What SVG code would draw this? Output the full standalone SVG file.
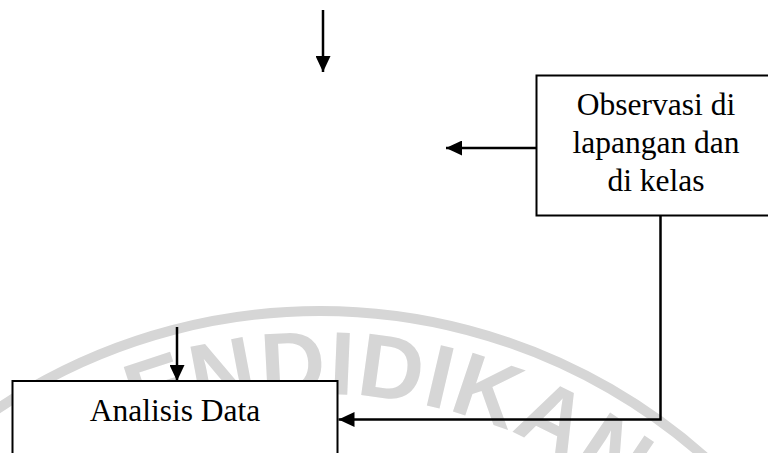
<svg xmlns="http://www.w3.org/2000/svg" width="768" height="453" viewBox="0 0 768 453">
<style>
.box{fill:#fff;stroke:#000;stroke-width:2}
.lbl{font-family:"Liberation Serif","Times New Roman",serif;font-size:31.5px;fill:#000;text-anchor:middle}
.con{fill:none;stroke:#000;stroke-width:2.5}
.wm{fill:none;stroke:#d6d6d6;stroke-width:10}
.wmt{font-family:"Liberation Sans",Arial,sans-serif;font-weight:bold;font-size:90px;fill:#d6d6d6}
</style>
<defs>
<marker id="ah" viewBox="0 0 16 15" refX="16" refY="7.5" markerWidth="16" markerHeight="15" markerUnits="userSpaceOnUse" orient="auto">
<path d="M0,0 L16,7.5 L0,15 z" fill="#000"/>
</marker>
<path id="wmArc" d="M -110.4 642.5 A 497 497 0 0 1 750.4 642.5"/>
</defs>
<rect width="768" height="453" fill="#fff"/>
<g id="watermark">
<path class="wm" d="M -182.3 601 A 580 580 0 0 1 822.3 601"/>
<text class="wmt"><textPath href="#wmArc" startOffset="272" textLength="575" lengthAdjust="spacing">PENDIDIKAN</textPath></text>
</g>
<g id="node-observasi">
<rect class="box" x="536.5" y="75.5" width="240" height="140"/>
<text class="lbl" x="656" y="115">Observasi di</text>
<text class="lbl" x="656" y="153">lapangan dan</text>
<text class="lbl" x="656" y="191">di kelas</text>
</g>
<g id="node-analisis">
<rect class="box" x="12.5" y="381" width="325" height="90"/>
<text class="lbl" x="175" y="420.5">Analisis Data</text>
</g>
<g id="connectors">
<line class="con" x1="323" y1="10" x2="323" y2="72" marker-end="url(#ah)"/>
<line class="con" x1="177" y1="327" x2="177" y2="381" marker-end="url(#ah)"/>
<line class="con" x1="536" y1="148" x2="446" y2="148" marker-end="url(#ah)"/>
<polyline class="con" points="660.5,215.5 660.5,419.5 338.5,419.5" marker-end="url(#ah)"/>
</g>
</svg>
